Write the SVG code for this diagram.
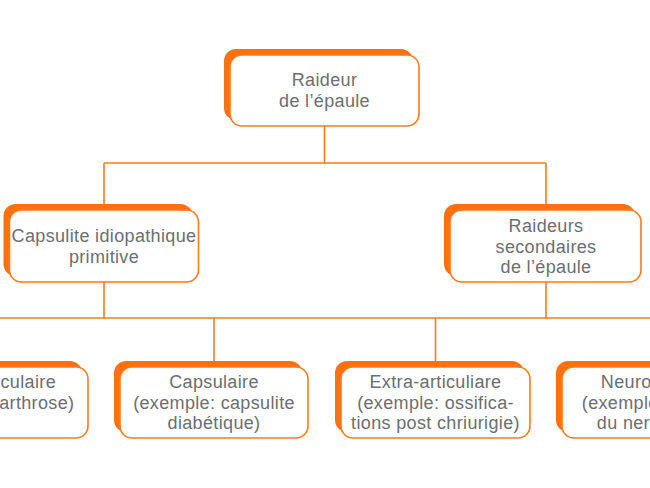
<svg xmlns="http://www.w3.org/2000/svg" width="650" height="488" viewBox="0 0 650 488">
<style>
.sh{fill:#ff700f;}
.bx{fill:#ffffff;stroke:#ff7a1a;stroke-width:1.6;}
.ln{fill:none;stroke:#ff7a1a;stroke-width:1.6;}
.t{font-family:"Liberation Sans",Arial,sans-serif;font-size:18px;letter-spacing:0.35px;fill:#6b6e72;text-anchor:middle;}
</style>
<rect width="650" height="488" fill="#ffffff"/>
<g id="connectors">
<path class="ln" d="M324.5 126 V163 M104 163 H546 M104 163 V210 M546 163 V210"/>
<path class="ln" d="M104 282 V318 M546 282 V318 M0 318 H650 M214 318 V367 M435.5 318 V367"/>
</g>
<g id="n-raideur">
<rect class="sh" x="224" y="49" width="189" height="71" rx="12"/>
<rect class="bx" x="230" y="55" width="189" height="71" rx="12"/>
<text class="t" x="324.5" y="86">Raideur</text>
<text class="t" x="324.5" y="107">de l’épaule</text>
</g>
<g id="n-capsulite">
<rect class="sh" x="3.5" y="204" width="189" height="72" rx="12"/>
<rect class="bx" x="9.5" y="210" width="189" height="72" rx="12"/>
<text class="t" x="104" y="242">Capsulite idiopathique</text>
<text class="t" x="104" y="262.5">primitive</text>
</g>
<g id="n-secondaires">
<rect class="sh" x="444" y="204" width="191" height="72" rx="12"/>
<rect class="bx" x="450" y="210" width="191" height="72" rx="12"/>
<text class="t" x="546" y="232">Raideurs</text>
<text class="t" x="546" y="252.5">secondaires</text>
<text class="t" x="546" y="273">de l’épaule</text>
</g>
<g id="n-intra">
<rect class="sh" x="-107" y="361" width="189" height="71" rx="12"/>
<rect class="bx" x="-101" y="367" width="189" height="71" rx="12"/>
<text class="t" x="-7" y="388">Intra-articulaire</text>
<text class="t" x="-7" y="408.5">(exemple: arthrose)</text>
</g>
<g id="n-capsulaire">
<rect class="sh" x="114" y="361" width="188" height="71" rx="12"/>
<rect class="bx" x="120" y="367" width="188" height="71" rx="12"/>
<text class="t" x="214" y="388">Capsulaire</text>
<text class="t" x="214" y="408.5">(exemple: capsulite</text>
<text class="t" x="214" y="429">diabétique)</text>
</g>
<g id="n-extra">
<rect class="sh" x="335" y="361" width="189" height="71" rx="12"/>
<rect class="bx" x="341" y="367" width="189" height="71" rx="12"/>
<text class="t" x="435.5" y="388">Extra-articuliare</text>
<text class="t" x="435.5" y="408.5">(exemple: ossifica-</text>
<text class="t" x="435.5" y="429">tions post chriurigie)</text>
</g>
<g id="n-neuro">
<rect class="sh" x="556" y="361" width="189" height="71" rx="12"/>
<rect class="bx" x="562" y="367" width="189" height="71" rx="12"/>
<text class="t" x="656.5" y="388">Neurologique</text>
<text class="t" x="656.5" y="408.5">(exemple: atteinte</text>
<text class="t" x="656.5" y="429">du nerf spinal)</text>
</g>
</svg>
